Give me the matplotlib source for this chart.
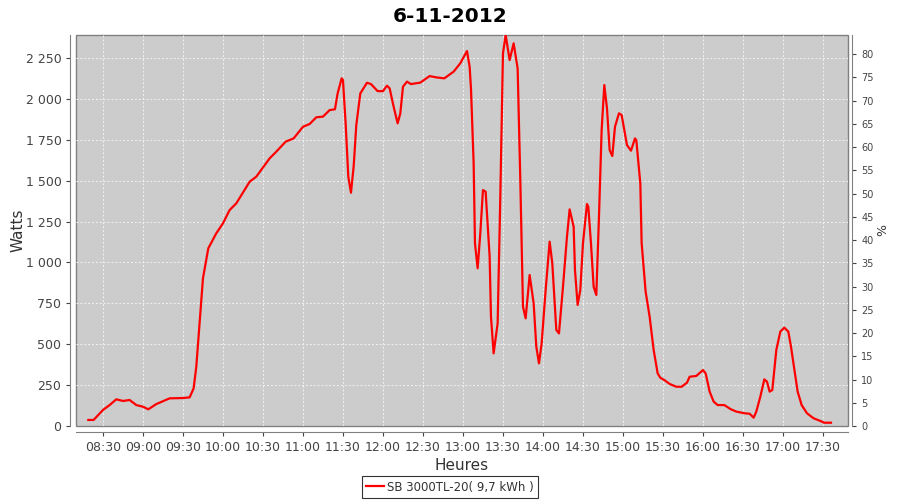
import pandas as pd
import matplotlib
matplotlib.use("Agg")
import matplotlib.pyplot as plt
import matplotlib.dates as mdates
from matplotlib.ticker import FuncFormatter, MultipleLocator

# time of reading and power (W)
times = ["08:19", "08:23", "08:30", "08:35", "08:40", "08:45", "08:50", "08:55",
         "09:00", "09:04", "09:10", "09:20", "09:30", "09:35", "09:38", "09:40",
         "09:43", "09:45", "09:49", "09:55", "10:00", "10:05", "10:10", "10:20",
         "10:25", "10:35", "10:40", "10:47", "10:53", "11:00", "11:05", "11:10",
         "11:15", "11:20", "11:24", "11:26", "11:29", "11:30", "11:32", "11:34",
         "11:36", "11:38", "11:40", "11:43", "11:48", "11:51", "11:56", "12:00",
         "12:03", "12:05", "12:08", "12:11", "12:13", "12:15", "12:18", "12:21",
         "12:28", "12:35", "12:40", "12:46", "12:53", "12:58", "13:00", "13:03",
         "13:05", "13:06", "13:08", "13:09", "13:11", "13:13", "13:15", "13:17",
         "13:20", "13:21", "13:23", "13:26", "13:28", "13:30", "13:32", "13:35",
         "13:38", "13:41", "13:43", "13:45", "13:47", "13:50", "13:53", "13:55",
         "13:57", "13:59", "14:02", "14:05", "14:07", "14:10", "14:12", "14:15",
         "14:18", "14:20", "14:23", "14:24", "14:26", "14:28", "14:30", "14:33",
         "14:34", "14:36", "14:38", "14:40", "14:42", "14:44", "14:46", "14:48",
         "14:50", "14:52", "14:54", "14:57", "14:59", "15:01", "15:03", "15:06",
         "15:09", "15:10", "15:13", "15:14", "15:17", "15:20", "15:23", "15:26",
         "15:28", "15:31", "15:35", "15:40", "15:44", "15:48", "15:50", "15:55",
         "16:00", "16:02", "16:05", "16:08", "16:11", "16:16", "16:21", "16:25",
         "16:31", "16:35", "16:38", "16:40", "16:43", "16:46", "16:48", "16:50",
         "16:52", "16:55", "16:58", "17:01", "17:04", "17:06", "17:09", "17:11",
         "17:14", "17:18", "17:23", "17:28", "17:31", "17:36"]
watts = [37, 37, 98, 128, 163, 153, 159, 128,
         118, 102, 134, 169, 171, 175, 230, 363,
         689, 903, 1086, 1178, 1239, 1320, 1361, 1493,
         1524, 1636, 1677, 1738, 1758, 1829, 1846, 1887,
         1891, 1931, 1936, 2033, 2125, 2115, 1850, 1524,
         1426, 1585, 1840, 2033, 2098, 2090, 2047, 2047,
         2080, 2064, 1952, 1850, 1911, 2074, 2105, 2090,
         2099, 2139, 2131, 2125, 2166, 2217, 2247, 2292,
         2196, 2064, 1606, 1117, 964, 1178, 1442, 1432,
         1035, 668, 444, 628, 1402, 2278, 2390, 2237,
         2339, 2186, 1504, 729, 658, 923, 750, 485,
         383, 505, 831, 1127, 994, 587, 566, 851,
         1157, 1324, 1218, 953, 740, 831, 1117, 1357,
         1340, 1117, 851, 801, 1279, 1809, 2084, 1942,
         1687, 1650, 1829, 1911, 1901, 1809, 1717, 1683,
         1758, 1748, 1483, 1117, 821, 668, 465, 322,
         295, 281, 257, 240, 240, 265, 301, 306,
         342, 322, 210, 149, 128, 128, 102, 88,
         78, 75, 51, 88, 179, 285, 271, 210,
         220, 465, 577, 601, 577, 485, 322, 210,
         128, 78, 47, 31, 20, 20]

series_label = "SB 3000TL-20( 9,7 kWh )"
title = "6-11-2012"

x = pd.to_datetime(["2012-11-06 " + t for t in times])

fig = plt.figure(figsize=(9, 5), dpi=100)
ax = fig.add_axes([0.0844, 0.148, 0.8578, 0.782])
ax.set_facecolor("#cccccc")
ax.patch.set_edgecolor("#808080")
ax.patch.set_linewidth(1.0)

line, = ax.plot(x, watts, color="#ff0000", lw=1.6)

ax.set_xlim(pd.Timestamp("2012-11-06 08:09:45"), pd.Timestamp("2012-11-06 17:48:45"))
ax.set_ylim(0, 2390)
ax.xaxis.set_major_locator(mdates.MinuteLocator(byminute=[0, 30]))
ax.xaxis.set_major_formatter(mdates.DateFormatter("%H:%M"))
ax.yaxis.set_major_locator(MultipleLocator(250))
ax.yaxis.set_major_formatter(FuncFormatter(lambda v, p: "{:,}".format(int(v)).replace(",", " ")))

ax.grid(True, color="#f2f2f2", linestyle=(0, (2, 2)), lw=0.7)
ax.set_axisbelow(True)

# axis lines sit a few pixels away from the plot area
ax.spines["top"].set_visible(False)
ax.spines["right"].set_visible(False)
ax.spines["left"].set_position(("outward", 4))
ax.spines["bottom"].set_position(("outward", 4))
for s in ax.spines.values():
    s.set_color("#808080")
ax.tick_params(colors="#444444", labelsize=9, length=3, width=0.8)
ax.tick_params(axis="x", pad=4)

ax.set_ylabel("Watts", fontsize=11, color="#333333", labelpad=0)
ax.set_xlabel("Heures", fontsize=11, color="#333333", labelpad=3)

ax2 = ax.twinx()
ax2.set_ylim(0, 84.1)
ax2.yaxis.set_major_locator(MultipleLocator(5))
ax2.tick_params(colors="#444444", labelsize=7, length=3, width=0.8)
for name, s in ax2.spines.items():
    s.set_visible(name == "right")
    s.set_color("#808080")
ax2.spines["right"].set_position(("outward", 3))
ax2.set_ylabel("%", fontsize=9, color="#333333", labelpad=2)

fig.suptitle(title, fontsize=14.5, fontweight="bold", y=0.985)

leg = fig.legend([line], [series_label], loc="center", bbox_to_anchor=(0.5, 0.026),
                 fontsize=8.5, frameon=True, fancybox=False, handlelength=1.5,
                 handletextpad=0.3, borderpad=0.35, borderaxespad=0)
leg.get_frame().set_edgecolor("black")
leg.get_frame().set_linewidth(0.8)
for t in leg.get_texts():
    t.set_color("#333333")

fig.savefig("out.png", dpi=100)
